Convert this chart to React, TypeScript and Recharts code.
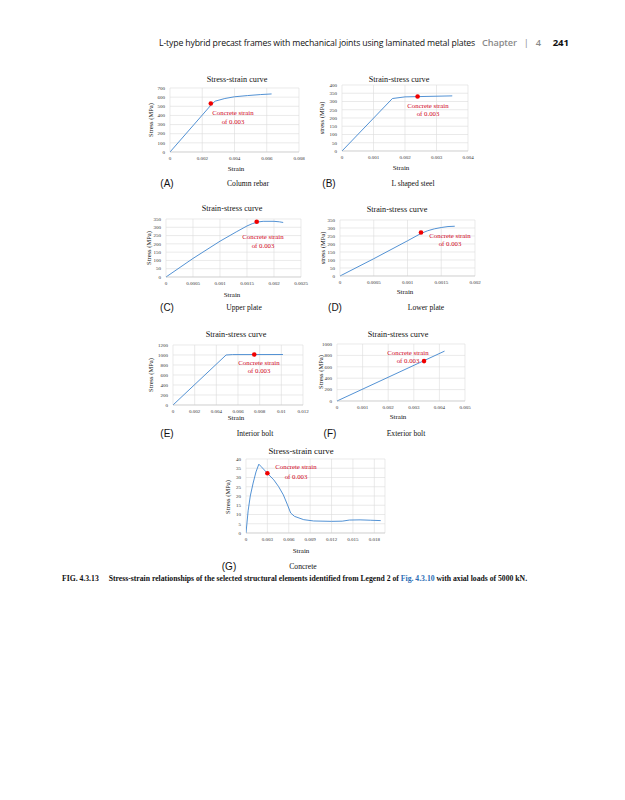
import React from 'react';
import { LineChart, Line, XAxis, YAxis, CartesianGrid, ReferenceDot } from 'recharts';

// ---------- data ----------
const rebarStrain = [0, 0.0026, 0.0028, 0.0034, 0.004, 0.0048, 0.0056, 0.0063];
const rebarStress = [0, 525, 556, 585, 604, 617, 628, 635];
const rebarDot = [0.00253, 530];
const rebarXTicks = [0, 0.002, 0.004, 0.006, 0.008];
const rebarYTicks = [0, 100, 200, 300, 400, 500, 600, 700];

const lsteelStrain = [0, 0.0016, 0.002, 0.0035];
const lsteelStress = [0, 318, 328, 334];
const lsteelDot = [0.0024, 330];
const lsteelXTicks = [0, 0.001, 0.002, 0.003, 0.004];
const lsteelYTicks = [0, 50, 100, 150, 200, 250, 300, 350, 400];

const upperStrain = [0, 0.0005, 0.001, 0.0013, 0.0015, 0.0016, 0.0017, 0.0018, 0.002, 0.0021, 0.00217];
const upperStress = [0, 112, 216, 272, 308, 322, 332, 336, 336, 333, 329];
const upperDot = [0.00168, 333];
const upperXTicks = [0, 0.0005, 0.001, 0.0015, 0.002, 0.0025];
const upperYTicks = [0, 50, 100, 150, 200, 250, 300, 350];

const lowerStrain = [0, 0.0005, 0.001, 0.0012, 0.0013, 0.0014, 0.0015, 0.0016, 0.0017];
const lowerStress = [0, 108, 220, 266, 283, 295, 303, 309, 311];
const lowerDot = [0.0012, 272];
const lowerXTicks = [0, 0.0005, 0.001, 0.0015, 0.002];
const lowerYTicks = [0, 50, 100, 150, 200, 250, 300, 350];

const intBoltStrain = [0, 0.0049, 0.0055, 0.01015];
const intBoltStress = [0, 1000, 1008, 1010];
const intBoltDot = [0.0075, 1010];
const intBoltXTicks = [0, 0.002, 0.004, 0.006, 0.008, 0.01, 0.012];
const intBoltYTicks = [0, 200, 400, 600, 800, 1000, 1200];

const extBoltStrain = [0, 0.0042];
const extBoltStress = [0, 875];
const extBoltDot = [0.0034, 700];
const extBoltXTicks = [0, 0.001, 0.002, 0.003, 0.004, 0.005];
const extBoltYTicks = [0, 200, 400, 600, 800, 1000];

const concStrain = [0, 0.0003, 0.0006, 0.001, 0.0014, 0.0018, 0.0021, 0.003, 0.0039, 0.00457, 0.00524, 0.00582, 0.00627, 0.0068, 0.0081, 0.0095, 0.012, 0.0135, 0.0145, 0.016, 0.0175, 0.0189];
const concStress = [0, 12, 20, 27, 33, 37.2, 36, 32.3, 28.7, 25.1, 20.6, 15.2, 10.8, 9.0, 7.2, 6.5, 6.3, 6.4, 7.0, 7.1, 6.9, 6.7];
const concDot = [0.003, 32.3];
const concXTicks = [0, 0.003, 0.006, 0.009, 0.012, 0.015, 0.018];
const concYTicks = [0, 5, 10, 15, 20, 25, 30, 35, 40];

// ---------- helpers ----------
const SERIF = '"Liberation Serif", "DejaVu Serif", serif';
const SANS = '"Liberation Sans", Arial, sans-serif';

function Txt({ x, y, children, size = 7, color = '#111', font = SERIF, weight = 400, rotate = false, anchor = 'middle' }: any) {
  const tx = anchor === 'middle' ? '-50%' : anchor === 'end' ? '-100%' : '0';
  return (
    <div
      style={{
        position: 'absolute',
        left: x,
        top: y,
        transform: `translate(${tx}, -50%)` + (rotate ? ' rotate(-90deg)' : ''),
        transformOrigin: rotate ? '50% 50%' : undefined,
        fontSize: size,
        color,
        fontFamily: font,
        fontWeight: weight,
        whiteSpace: 'nowrap',
        lineHeight: 1,
      }}
    >
      {children}
    </div>
  );
}

const fmt = (v: number) => String(v);

function Panel({ xs, ys, dot, xTicks, yTicks, xMax, plot }: any) {
  const [x0, y0, x1, y1] = plot;
  const yAxisW = 22;
  const rightPad = 10;
  const left = x0 - yAxisW;
  const top = y0 - 4;
  const width = x1 - left + rightPad;
  const height = y1 - top + 14;
  const data = xs.map((x: number, i: number) => ({ x, y: ys[i] }));
  const tickStyle = { fontSize: 5, fill: '#333', fontFamily: SERIF };
  return (
    <div style={{ position: 'absolute', left, top }}>
      <LineChart width={width} height={height} data={data} margin={{ top: 4, right: rightPad, left: 0, bottom: 2 }}>
        <CartesianGrid stroke="#dcdcdc" strokeWidth={0.6} />
        <XAxis
          type="number"
          dataKey="x"
          domain={[0, xMax]}
          ticks={xTicks}
          interval={0}
          allowDataOverflow
          height={12}
          tickSize={2}
          tickMargin={2}
          tickLine={false}
          axisLine={{ stroke: '#c8c8c8', strokeWidth: 0.6 }}
          tick={tickStyle}
          tickFormatter={fmt}
        />
        <YAxis
          type="number"
          domain={[yTicks[0], yTicks[yTicks.length - 1]]}
          ticks={yTicks}
          interval={0}
          width={yAxisW}
          tickSize={2}
          tickMargin={3}
          tickLine={false}
          axisLine={false}
          tick={tickStyle}
          tickFormatter={fmt}
        />
        <Line type="linear" dataKey="y" stroke="#3f86cf" strokeWidth={0.9} dot={false} isAnimationActive={false} />
        <ReferenceDot x={dot[0]} y={dot[1]} r={2.3} fill="#f00000" stroke="none" />
      </LineChart>
    </div>
  );
}

function Annot({ x, y1, y2 }: any) {
  return (
    <>
      <Txt x={x} y={y1} size={6.8} color="#d0021b">Concrete strain</Txt>
      <Txt x={x} y={y2} size={6.8} color="#d0021b">of 0.003</Txt>
    </>
  );
}

export default function App() {
  return (
    <div style={{ position: 'absolute', left: 0, top: 0, width: 625, height: 800, background: '#fff', overflow: 'hidden' }}>
      {/* header */}
      <div style={{ position: 'absolute', left: 159, top: 35.5, fontFamily: '"Open Sans", sans-serif', fontSize: 8.7, whiteSpace: 'nowrap', color: '#111', letterSpacing: -0.14 }}>
        L-type hybrid precast frames with mechanical joints using laminated metal plates
        <span style={{ color: '#8a8a8a', fontWeight: 600, marginLeft: 7, fontSize: 9.2 }}>Chapter</span>
        <span style={{ color: '#8a8a8a', marginLeft: 7, fontSize: 9.2 }}>|</span>
        <span style={{ color: '#8a8a8a', fontWeight: 600, marginLeft: 7, fontSize: 9.2 }}>4</span>
        <span style={{ fontWeight: 700, marginLeft: 12, fontSize: 9.6 }}>241</span>
      </div>

      {/* A */}
      <Panel xs={rebarStrain} ys={rebarStress} dot={rebarDot} xTicks={rebarXTicks} yTicks={rebarYTicks} xMax={0.008} plot={[170, 88, 299, 152]} />
      <Txt x={237} y={80} size={8.2}>Stress-strain curve</Txt>
      <Txt x={151} y={120} size={6.5} rotate>Stress (MPa)</Txt>
      <Txt x={236} y={169} size={7}>Strain</Txt>
      <Annot x={233} y1={113} y2={122} />
      <Txt x={167} y={184} size={10} font={SANS}>(A)</Txt>
      <Txt x={248} y={184} size={7.6}>Column rebar</Txt>

      {/* B */}
      <Panel xs={lsteelStrain} ys={lsteelStress} dot={lsteelDot} xTicks={lsteelXTicks} yTicks={lsteelYTicks} xMax={0.004} plot={[342, 85, 468, 151]} />
      <Txt x={399} y={80} size={8.2}>Strain-stress curve</Txt>
      <Txt x={322} y={118} size={6.5} rotate>stress (MPa)</Txt>
      <Txt x={401} y={168} size={7}>Strain</Txt>
      <Annot x={428} y1={106} y2={114} />
      <Txt x={329} y={184} size={10} font={SANS}>(B)</Txt>
      <Txt x={413} y={184} size={7.6}>L shaped steel</Txt>

      {/* C */}
      <Panel xs={upperStrain} ys={upperStress} dot={upperDot} xTicks={upperXTicks} yTicks={upperYTicks} xMax={0.0025} plot={[166, 219, 301, 277]} />
      <Txt x={232} y={209} size={8.2}>Strain-stress curve</Txt>
      <Txt x={149} y={248} size={6.5} rotate>Stress (MPa)</Txt>
      <Txt x={232} y={295} size={7}>Strain</Txt>
      <Annot x={263} y1={237} y2={246} />
      <Txt x={167} y={308} size={10} font={SANS}>(C)</Txt>
      <Txt x={244} y={308} size={7.6}>Upper plate</Txt>

      {/* D */}
      <Panel xs={lowerStrain} ys={lowerStress} dot={lowerDot} xTicks={lowerXTicks} yTicks={lowerYTicks} xMax={0.002} plot={[340, 220, 475, 276]} />
      <Txt x={397} y={210} size={8.2}>Strain-stress curve</Txt>
      <Txt x={323} y={248} size={6.5} rotate>stress (MPa)</Txt>
      <Txt x={405} y={292} size={7}>Strain</Txt>
      <Annot x={450} y1={236} y2={244} />
      <Txt x={335} y={308} size={10} font={SANS}>(D)</Txt>
      <Txt x={426} y={308} size={7.6}>Lower plate</Txt>

      {/* E */}
      <Panel xs={intBoltStrain} ys={intBoltStress} dot={intBoltDot} xTicks={intBoltXTicks} yTicks={intBoltYTicks} xMax={0.012} plot={[173, 345, 303, 405]} />
      <Txt x={236} y={335} size={8.2}>Strain-stress curve</Txt>
      <Txt x={151} y={375} size={6.5} rotate>Stress (MPa)</Txt>
      <Txt x={236} y={418} size={7}>Strain</Txt>
      <Annot x={259} y1={363} y2={371} />
      <Txt x={167} y={434} size={10} font={SANS}>(E)</Txt>
      <Txt x={255} y={434} size={7.6}>Interior bolt</Txt>

      {/* F */}
      <Panel xs={extBoltStrain} ys={extBoltStress} dot={extBoltDot} xTicks={extBoltXTicks} yTicks={extBoltYTicks} xMax={0.005} plot={[337, 344, 465, 401]} />
      <Txt x={398} y={335} size={8.2}>Strain-stress curve</Txt>
      <Txt x={321} y={372} size={6.5} rotate>Stress (MPa)</Txt>
      <Txt x={398} y={417} size={7}>Strain</Txt>
      <Annot x={408} y1={353} y2={361} />
      <Txt x={330} y={434} size={10} font={SANS}>(F)</Txt>
      <Txt x={406} y={434} size={7.6}>Exterior bolt</Txt>

      {/* G */}
      <Panel xs={concStrain} ys={concStress} dot={concDot} xTicks={concXTicks} yTicks={concYTicks} xMax={0.0195} plot={[246, 459, 385, 533]} />
      <Txt x={301} y={451} size={8.8}>Stress-strain curve</Txt>
      <Txt x={228} y={497} size={6.5} rotate>Stress (MPa)</Txt>
      <Txt x={301} y={551} size={7}>Strain</Txt>
      <Annot x={296} y1={467} y2={477} />
      <Txt x={229} y={567} size={10} font={SANS}>(G)</Txt>
      <Txt x={303} y={567} size={7.6}>Concrete</Txt>

      {/* caption */}
      <div style={{ position: 'absolute', left: 62, top: 573.5, fontFamily: SERIF, fontWeight: 700, fontSize: 7.7, whiteSpace: 'nowrap', color: '#111' }}>
        <span>FIG. 4.3.13</span>
        <span style={{ marginLeft: 10 }}>Stress-strain relationships of the selected structural elements identified from Legend 2 of </span>
        <span style={{ color: '#2a6db5' }}>Fig. 4.3.10</span>
        <span> with axial loads of 5000 kN.</span>
      </div>
    </div>
  );
}
